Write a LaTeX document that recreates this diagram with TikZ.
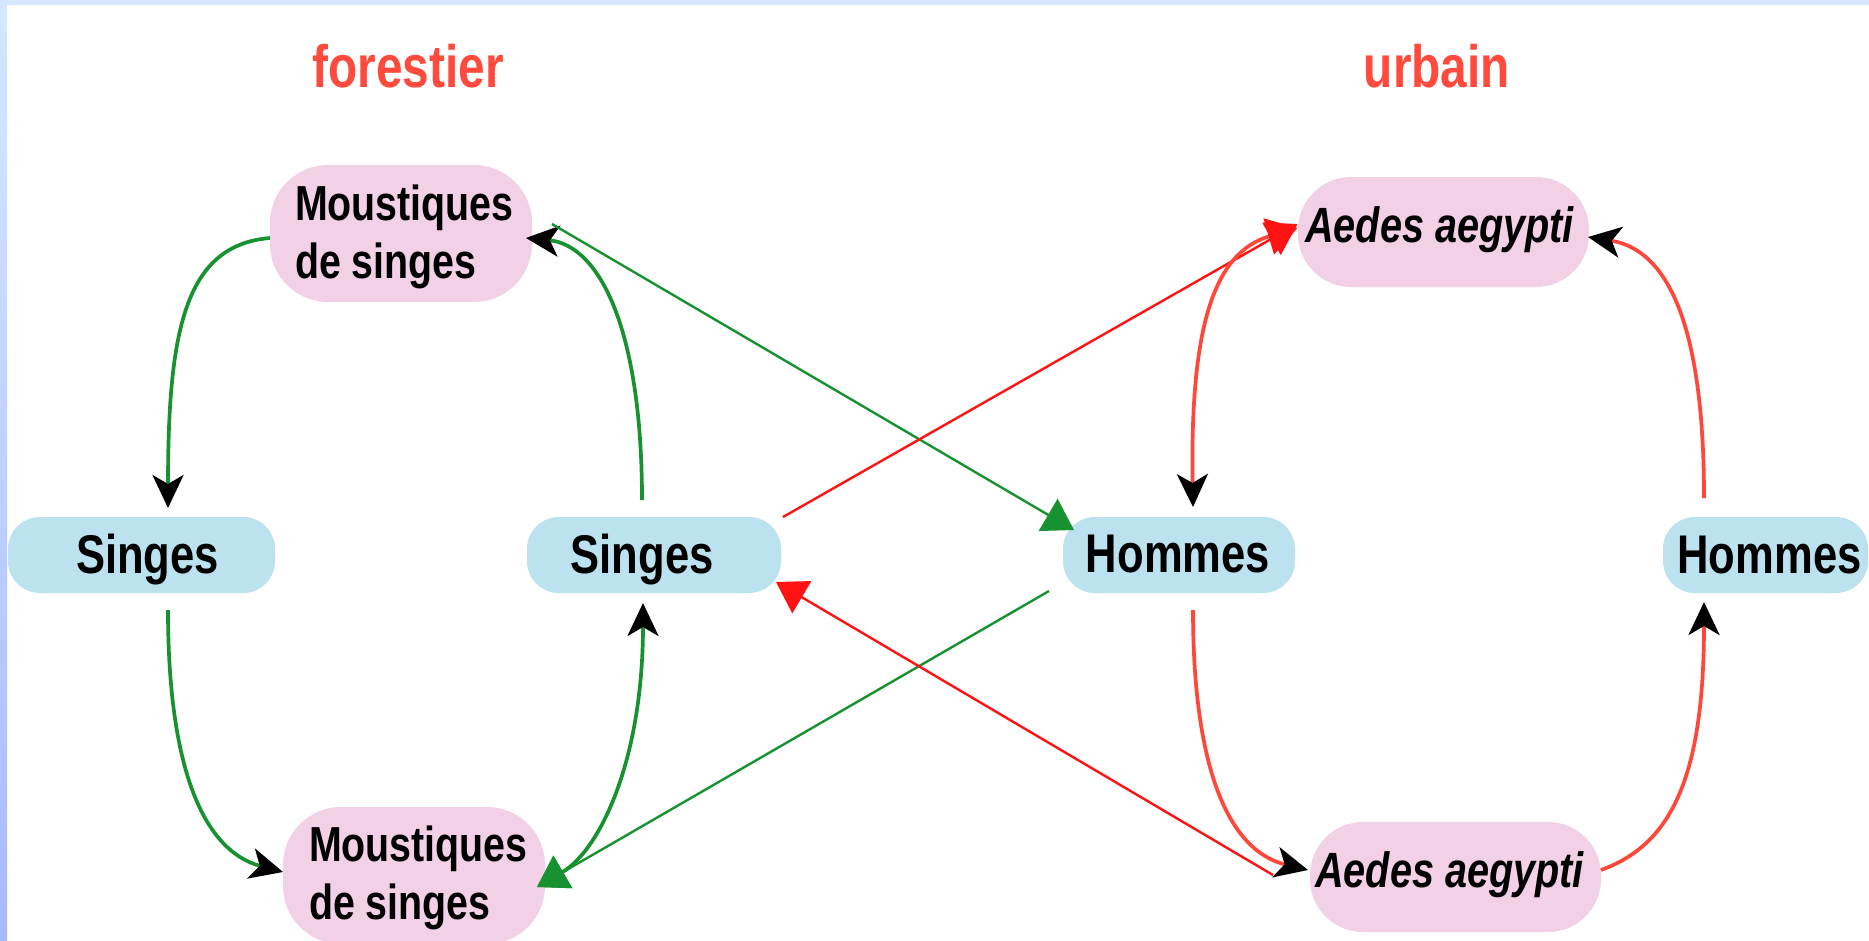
\documentclass[tikz,border=0pt]{standalone}
\usepackage{fontspec}
\newfontfamily\nf{Liberation Sans}[FakeStretch=0.8]
\usetikzlibrary{arrows.meta,calc}
\definecolor{grn}{RGB}{24,146,48}
\definecolor{redc}{RGB}{255,72,58}
\definecolor{redl}{RGB}{255,18,18}
\definecolor{titlered}{RGB}{255,74,61}
\definecolor{pinkc}{RGB}{242,208,230}
\definecolor{bluec}{RGB}{187,226,238}
\definecolor{stripA}{RGB}{213,232,255}
\definecolor{stripB}{RGB}{168,186,255}
\newcommand\ctext[3]{\makebox[0pt]{\kern#1\raisebox{#2}[0pt][0pt]{#3}\kern-#1}}
\newcommand\ltext[3]{\makebox[0pt][l]{\kern#1\raisebox{#2}[0pt][0pt]{#3}}}
\newcommand\twolines[2]{\vtop{\baselineskip=5.85mm\hbox{#1}\hbox{#2}}}
\tikzset{
  boxbase/.style={inner sep=0pt, outer sep=0pt, text=black},
  pinkbox/.style={boxbase, fill=pinkc, rounded corners=5.8mm, minimum width=26.2mm, minimum height=13.7mm,
    font=\nf\bfseries\fontsize{14pt}{16pt}\selectfont},
  aedesbox/.style={boxbase, fill=pinkc, rounded corners=5.3mm, minimum width=29.1mm, minimum height=11mm,
    font=\nf\bfseries\itshape\fontsize{14.1pt}{16pt}\selectfont},
  bluebox/.style={boxbase, fill=bluec, rounded corners=3.2mm, minimum height=7.6mm,
    font=\nf\bfseries\fontsize{15.5pt}{18pt}\selectfont},
  titletext/.style={anchor=base, inner sep=0pt, text=titlered, font=\nf\bfseries\fontsize{17pt}{20pt}\selectfont},
  thickg/.style={draw=grn, line width=0.37mm},
  thickr/.style={draw=redc, line width=0.37mm},
  thing/.style={draw=grn, line width=0.24mm},
  thinr/.style={draw=redl, line width=0.24mm},
  tipblack/.style={-{Stealth[length=3.3mm,width=3.1mm,inset=0.9mm,color=black]}},
  tiptri/.style={-{Triangle[length=3mm,width=3.7mm]}},
  dblg/.style={{Stealth[length=3.3mm,width=3.1mm,inset=0.9mm,color=black]}-{Triangle[length=3mm,width=3.7mm,color=grn]}},
  dblr/.style={{Stealth[length=3.3mm,width=3.1mm,inset=0.9mm,color=black]}-{Triangle[length=3mm,width=3.7mm,color=redl]}}
}
\begin{document}
\begin{tikzpicture}[x=0.1mm, y=-0.1mm]
\useasboundingbox (0,0) rectangle (1869,940);
\fill[white] (0,0) rectangle (1869,940);
\fill[stripA] (0,0) rectangle (1869,5);
\shade[top color=stripA, bottom color=stripB] (0,0) rectangle (7,940);

% titles
\node[titletext] (tf) at (408,88) {forestier};
\node[titletext] (tu) at (1437,87) {urbain};

% nodes
\node[pinkbox] (msT) at (401,233.5) {\ltext{-10.6mm}{1.35mm}{\twolines{Moustiques}{de singes}}};
\node[pinkbox] (msB) at (414,875.5) {\ltext{-10.5mm}{1.45mm}{\twolines{Moustiques}{de singes}}};
\node[bluebox, minimum width=26.7mm] (sgL) at (141.5,555) {\ctext{0.6mm}{-1.8mm}{Singes}};
\node[bluebox, minimum width=25.4mm] (sgM) at (654,555) {\ctext{-1.2mm}{-1.8mm}{Singes}};
\node[bluebox, minimum width=23.2mm] (hmM) at (1179,555) {\ctext{-0.1mm}{-1.7mm}{Hommes}};
\node[bluebox, minimum width=20.5mm] (hmR) at (1765.5,555) {\ctext{0.4mm}{-1.8mm}{Hommes}};
\node[aedesbox] (aeT) at (1443.5,232) {\ctext{-0.4mm}{-1.0mm}{Aedes aegypti}};
\node[aedesbox] (aeB) at (1455.5,877) {\ctext{-0.6mm}{-1.0mm}{Aedes aegypti}};

% forest cycle
\draw[thickg, tipblack] ($(msT)+(-131,4.5)$) .. controls +(-85,7) and +(0,-178) .. ($(sgL)+(26.5,-47)$);
\draw[thickg, tipblack] ($(sgL)+(26.5,55)$) .. controls +(0,150) and +(-83,-22) .. ($(msB)+(-131,-3.5)$);
\draw[thickg, tipblack] ($(sgM)+(-12,-55)$) .. controls +(0,-170) and +(74,7) .. ($(msT)+(125,4.5)$);
\draw[thickg, dblg] ($(sgM)+(-11,48)$) .. controls +(0,157) and +(63,-37) .. ($(msB)+(123,11.5)$);

% cross links
\draw[thing, tiptri] ($(msT)+(151,-9.5)$) -- ($(hmM)+(-105,-25)$);
\draw[thing, tiptri] ($(hmM)+(-130,36)$) -- ($(msB)+(123,11.5)$);
\draw[thinr, tiptri] ($(sgM)+(129,-38)$) -- ($(aeT)+(-146,-8)$);
\draw[thinr, tiptri] ($(aeB)+(-182.5,-2)$) -- ($(sgM)+(122,27)$);

% urban cycle
\draw[thickr, dblr] ($(hmM)+(14,-48)$) .. controls +(-3,-177) and +(-85,25) .. ($(aeT)+(-146,-4)$);
\draw[thickr, tipblack] ($(hmM)+(14,55)$) .. controls +(0,150) and +(-83,-20) .. ($(aeB)+(-147.5,-7)$);
\draw[thickr, tipblack] ($(aeB)+(145.5,-7)$) .. controls +(69,-25) and +(0,178) .. ($(hmR)+(-61.5,47)$);
\draw[thickr, tipblack] ($(hmR)+(-61.5,-57)$) .. controls +(0,-168) and +(82,13) .. ($(aeT)+(144.5,5)$);
\end{tikzpicture}
\end{document}
